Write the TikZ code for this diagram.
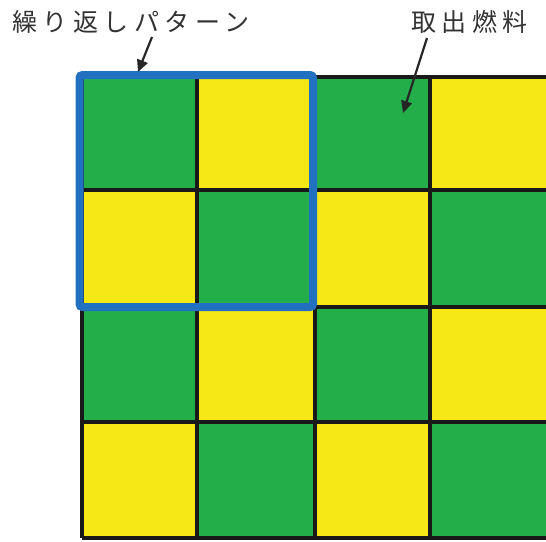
\documentclass[tikz,border=0pt]{standalone}
\usepackage{fontspec}
\newfontfamily\cjk[LetterSpace=22]{Noto Sans CJK JP}
\usetikzlibrary{arrows.meta}
\definecolor{cgreen}{HTML}{23AE4A}
\definecolor{cyellow}{HTML}{F6E716}
\definecolor{cblue}{HTML}{2270C0}
\definecolor{ctext}{HTML}{333333}
\tikzset{
  lbl/.style={font=\cjk\fontsize{25}{25}\selectfont, text=ctext, inner sep=0pt, anchor=west},
  ptr/.style={-{Triangle[length=12pt,width=11pt]}, line width=2.2pt, draw=black!85},
  gridline/.style={line width=3.5pt, draw=black!90},
}
\begin{document}
\begin{tikzpicture}[x=1pt,y=-1pt]
\useasboundingbox (0,0) rectangle (546,541);
\def\xs{{82,197,315,430,549}}
\def\ys{{77,190,307,422,538}}
\foreach \i in {0,...,3}{
  \foreach \j in {0,...,3}{
    \pgfmathsetmacro{\xa}{\xs[\i]}
    \pgfmathsetmacro{\xb}{\xs[\i+1]}
    \pgfmathsetmacro{\ya}{\ys[\j]}
    \pgfmathsetmacro{\yb}{\ys[\j+1]}
    \pgfmathtruncatemacro{\parity}{mod(\i+\j,2)}
    \ifnum\parity=0
      \fill[cgreen] (\xa,\ya) rectangle (\xb,\yb);
    \else
      \fill[cyellow] (\xa,\ya) rectangle (\xb,\yb);
    \fi
  }
}
\foreach \k in {0,...,4}{
  \pgfmathsetmacro{\xk}{\xs[\k]}
  \pgfmathsetmacro{\yk}{\ys[\k]}
  \draw[gridline] (\xk,77) -- (\xk,538);
  \draw[gridline] (82,\yk) -- (549,\yk);
}
\draw[cblue, line width=8pt, rounded corners=3pt] (79.5,75) rectangle (313,307);
\node[lbl] (rep) at (12,22) {繰り返しパターン};
\node[lbl] (fuel) at (411,22) {取出燃料};
\coordinate (repS) at (152,37);
\coordinate (repT) at (138,72);
\coordinate (fuelS) at (427,38);
\coordinate (fuelT) at (403,113);
\draw[ptr] (repS) -- (repT);
\draw[ptr] (fuelS) -- (fuelT);
\end{tikzpicture}
\end{document}
